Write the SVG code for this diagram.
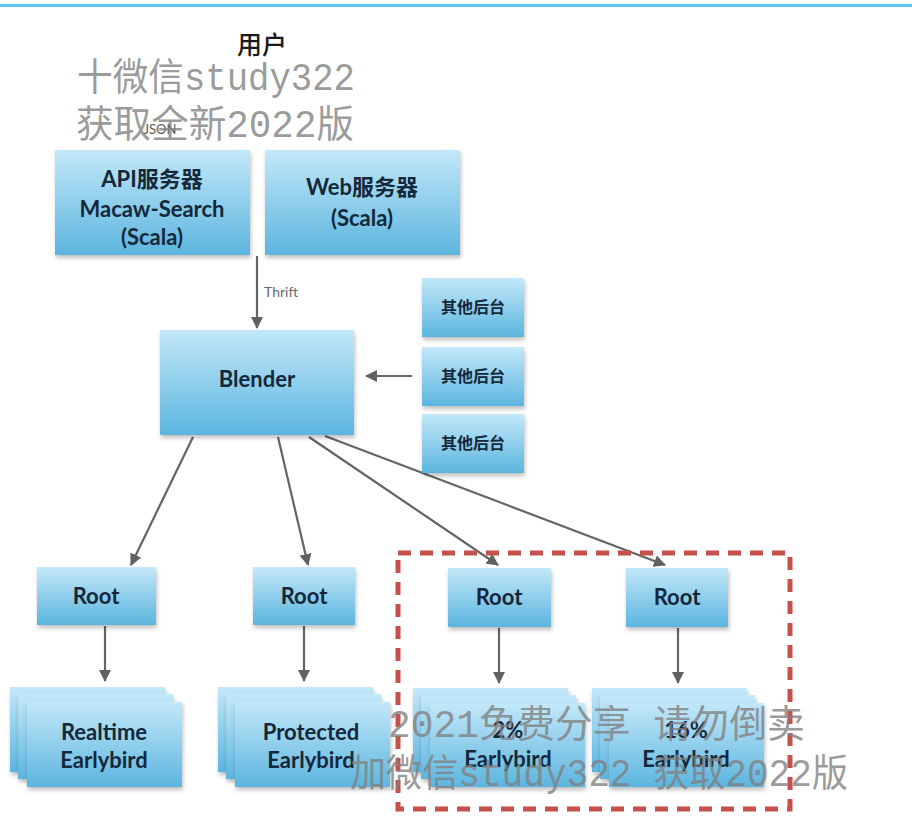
<svg xmlns="http://www.w3.org/2000/svg" width="912" height="840" viewBox="0 0 912 840">
  <defs>
    <linearGradient id="boxg" x1="0" y1="0" x2="0" y2="1">
      <stop offset="0" stop-color="#c3e8f9"/>
      <stop offset="1" stop-color="#5cb5df"/>
    </linearGradient>
    <filter id="sh" x="-10%" y="-10%" width="125%" height="130%">
      <feDropShadow dx="1" dy="3" stdDeviation="2" flood-color="#000" flood-opacity="0.25"/>
    </filter>
    <marker id="ah" viewBox="0 0 12 12" refX="11" refY="6" markerWidth="12" markerHeight="12" markerUnits="userSpaceOnUse" orient="auto">
      <path d="M0,0 L12,6 L0,12 Z" fill="#616161"/>
    </marker>
  </defs>
  <style>
    .box { fill: url(#boxg); filter: url(#sh); }
    .t { font-family: Lato, "Noto Sans CJK SC", sans-serif; font-weight: 700; font-size: 22px; fill: #14283a; text-anchor: middle; }
    .ts { font-family: "Noto Sans CJK SC", sans-serif; font-weight: 700; font-size: 16px; fill: #14283a; text-anchor: middle; }
    .lbl { font-family: Lato, sans-serif; font-size: 14px; fill: #6a6a6a; }
    .c { stroke: #646464; stroke-width: 2.2; fill: none; marker-end: url(#ah); }
    .wm { font-family: "Liberation Mono", "Noto Sans CJK SC", monospace; font-size: 38px; fill: #808080; fill-opacity: 0.8; }
  </style>
  <rect x="0" y="4" width="912" height="3" fill="#62c6f2"/>

  <text x="262" y="54" font-family="'Noto Sans CJK SC', sans-serif" font-size="25" font-weight="500" fill="#1a1a1a" text-anchor="middle">用户</text>
  <text x="160" y="134" font-family="Lato, sans-serif" font-size="13" fill="#555" text-anchor="middle">JSON</text>

  <g id="connectors">
    <line class="c" x1="257" y1="256" x2="257" y2="328"/>
    <line class="c" x1="412" y1="376" x2="366" y2="376"/>
    <line class="c" x1="193" y1="437" x2="131" y2="565"/>
    <line class="c" x1="278" y1="437" x2="308" y2="565"/>
    <line class="c" x1="309" y1="437" x2="498" y2="565"/>
    <line class="c" x1="325" y1="436" x2="665" y2="565"/>
    <line class="c" x1="105" y1="626" x2="105" y2="681"/>
    <line class="c" x1="304" y1="626" x2="304" y2="681"/>
    <line class="c" x1="499" y1="628" x2="499" y2="683"/>
    <line class="c" x1="678" y1="628" x2="678" y2="683"/>
  </g>
  <text class="lbl" x="264" y="297">Thrift</text>

  <g id="api">
    <rect class="box" x="55" y="150" width="195" height="105"/>
    <text class="t" x="152" y="187">API服务器</text>
    <text class="t" x="152" y="217">Macaw-Search</text>
    <text class="t" x="152" y="245" font-weight="400">(Scala)</text>
  </g>
  <g id="web">
    <rect class="box" x="265" y="150" width="195" height="105"/>
    <text class="t" x="362" y="195">Web服务器</text>
    <text class="t" x="362" y="226" font-weight="400">(Scala)</text>
  </g>
  <g id="blender">
    <rect class="box" x="160" y="330" width="194" height="105"/>
    <text class="t" x="257" y="387">Blender</text>
  </g>
  <g id="other1">
    <rect class="box" x="422" y="278" width="102" height="59"/>
    <text class="ts" x="473" y="313">其他后台</text>
  </g>
  <g id="other2">
    <rect class="box" x="422" y="347" width="102" height="59"/>
    <text class="ts" x="473" y="382">其他后台</text>
  </g>
  <g id="other3">
    <rect class="box" x="422" y="414" width="102" height="59"/>
    <text class="ts" x="473" y="449">其他后台</text>
  </g>

  <g id="root1">
    <rect class="box" x="37" y="567" width="119" height="58"/>
    <text class="t" x="96" y="604">Root</text>
  </g>
  <g id="root2">
    <rect class="box" x="253" y="567" width="102" height="58"/>
    <text class="t" x="304" y="604">Root</text>
  </g>
  <g id="root3">
    <rect class="box" x="448" y="568" width="103" height="59"/>
    <text class="t" x="499" y="605">Root</text>
  </g>
  <g id="root4">
    <rect class="box" x="626" y="568" width="102" height="59"/>
    <text class="t" x="677" y="605">Root</text>
  </g>

  <g id="realtime">
    <rect class="box" x="10" y="687" width="155" height="85"/>
    <rect class="box" x="18" y="694" width="155" height="85"/>
    <rect class="box" x="27" y="702" width="155" height="85"/>
    <text class="t" x="104" y="740">Realtime</text>
    <text class="t" x="104" y="768">Earlybird</text>
  </g>
  <g id="protected">
    <rect class="box" x="218" y="687" width="155" height="85"/>
    <rect class="box" x="226" y="694" width="155" height="85"/>
    <rect class="box" x="235" y="702" width="155" height="85"/>
    <text class="t" x="311" y="740">Protected</text>
    <text class="t" x="311" y="768">Earlybird</text>
  </g>
  <g id="eb2">
    <rect class="box" x="413" y="688" width="155" height="84"/>
    <rect class="box" x="421" y="695" width="155" height="84"/>
    <rect class="box" x="430" y="703" width="155" height="84"/>
    <text class="t" x="508" y="738">2%</text>
    <text class="t" x="508" y="767">Earlybird</text>
  </g>
  <g id="eb16">
    <rect class="box" x="592" y="688" width="155" height="84"/>
    <rect class="box" x="600" y="695" width="155" height="84"/>
    <rect class="box" x="609" y="703" width="155" height="84"/>
    <text class="t" x="686" y="738">16%</text>
    <text class="t" x="686" y="767">Earlybird</text>
  </g>

  <rect id="group" x="398" y="553" width="392" height="256" fill="none" stroke="#c5514c" stroke-width="5" stroke-dasharray="13 9"/>

  <g id="watermark">
    <text class="wm" x="77" y="90" textLength="278" lengthAdjust="spacingAndGlyphs">十微信study322</text>
    <text class="wm" x="76" y="137" textLength="278" lengthAdjust="spacingAndGlyphs">获取全新2022版</text>
    <text class="wm" x="388" y="737" textLength="417" lengthAdjust="spacingAndGlyphs">2021免费分享 请勿倒卖</text>
    <text class="wm" x="350" y="786" textLength="498" lengthAdjust="spacingAndGlyphs">加微信study322 获取2022版</text>
  </g>
</svg>
